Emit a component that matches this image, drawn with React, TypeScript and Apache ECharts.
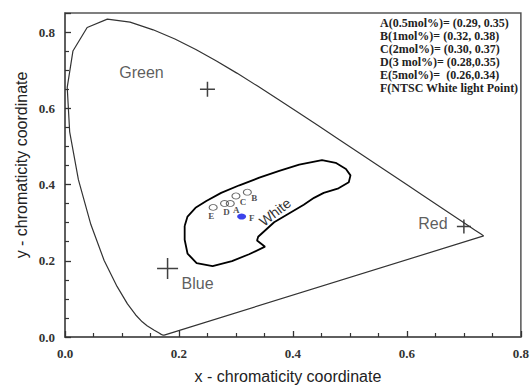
import React, { useEffect, useRef } from "react";
import * as echarts from "echarts";

// CIE spectral locus (x, y)
const locus: [number, number][] = [
  [0.1741, 0.005], [0.1733, 0.0048], [0.1714, 0.0051], [0.1689, 0.0069], [0.1644, 0.0109],
  [0.1566, 0.0177], [0.144, 0.0297], [0.1355, 0.0399], [0.1241, 0.0578], [0.1096, 0.0868],
  [0.0913, 0.1327], [0.0687, 0.2007], [0.0454, 0.295], [0.0235, 0.4127], [0.0082, 0.5384],
  [0.0039, 0.6548], [0.0139, 0.7502], [0.0389, 0.812], [0.0743, 0.8338], [0.1142, 0.8262],
  [0.1547, 0.8059], [0.1929, 0.7816], [0.2296, 0.7543], [0.2658, 0.7243], [0.3016, 0.6923],
  [0.3373, 0.6589], [0.3731, 0.6245], [0.4087, 0.5896], [0.4441, 0.5547], [0.4788, 0.5202],
  [0.5125, 0.4866], [0.5448, 0.4544], [0.5752, 0.4242], [0.6029, 0.3965], [0.627, 0.3725],
  [0.6658, 0.334], [0.6915, 0.3083], [0.7079, 0.292], [0.719, 0.2809], [0.73, 0.27],
  [0.7347, 0.2653], [0.1741, 0.005],
];

// White region outline
const whiteRegion: [number, number][] = [
  [0.21, 0.291], [0.215, 0.316], [0.229, 0.339], [0.248, 0.357], [0.274, 0.378],
  [0.306, 0.398], [0.341, 0.418], [0.376, 0.436], [0.411, 0.452], [0.451, 0.464],
  [0.475, 0.457], [0.493, 0.441], [0.501, 0.424], [0.498, 0.406], [0.48, 0.39],
  [0.454, 0.378], [0.437, 0.365], [0.419, 0.347], [0.393, 0.324], [0.367, 0.301],
  [0.339, 0.263], [0.337, 0.253], [0.351, 0.237], [0.323, 0.217], [0.293, 0.199],
  [0.259, 0.186], [0.231, 0.194], [0.215, 0.219], [0.21, 0.255], [0.21, 0.291],
];

const sampleNames = ["A", "B", "C", "D", "E"];
const sampleX = [0.29, 0.32, 0.3, 0.28, 0.26];
const sampleY = [0.35, 0.38, 0.37, 0.35, 0.34];
const sampleLabelOffsets: [number, number][] = [[6, 6], [7, 6], [7, 6], [2, 8], [-2, 9]];

const whitePointName = "F";
const whitePoint: [number, number] = [0.31, 0.316];

const primaryNames = ["Green", "Red", "Blue"];
const primaryX = [0.25, 0.7, 0.18];
const primaryY = [0.65, 0.29, 0.18];
const primarySizes = [15, 14, 21];
const primaryLabelOffsets: [number, number][] = [[-66, -17], [-31, -3], [30, 15]];

const legendLines = [
  "A(0.5mol%)= (0.29, 0.35)",
  "B(1mol%)= (0.32, 0.38)",
  "C(2mol%)= (0.30, 0.37)",
  "D(3 mol%)= (0.28,0.35)",
  "E(5mol%)=  (0.26,0.34)",
  "F(NTSC White light Point)",
];

const xTickValues = [0, 0.2, 0.4, 0.6, 0.8];
const yTickValues = [0, 0.2, 0.4, 0.6, 0.8];

const xTitle = "x - chromaticity coordinate";
const yTitle = "y - chromaticity coordinate";

const serif = "'Liberation Serif', 'Times New Roman', serif";
const sans = "'Liberation Sans', Arial, sans-serif";

export default function App() {
  const ref = useRef<HTMLDivElement>(null);
  useEffect(() => {
    if (!ref.current) return;
    const chart = echarts.init(ref.current, null, { renderer: "svg" });
    const axisCommon = {
      type: "value" as const,
      splitLine: { show: false },
      axisLine: { show: true, lineStyle: { color: "#555", width: 1.5 } },
      axisTick: { show: true, inside: true, length: 6, lineStyle: { color: "#333", width: 1.3 } },
      minorTick: { show: true, splitNumber: 4, length: 4, lineStyle: { color: "#333", width: 1.2 } },
      axisLabel: {
        fontFamily: serif,
        fontWeight: "bold" as const,
        fontSize: 13,
        color: "#333",
        margin: 10,
      },
    };
    chart.setOption({
      animation: false,
      backgroundColor: "#fff",
      grid: {
        left: 65, right: 9, top: 13, bottom: 43,
        show: true, borderColor: "#555", borderWidth: 1.5,
      },
      xAxis: {
        ...axisCommon,
        min: 0, max: 0.8, interval: 0.2,
        axisLabel: {
          ...axisCommon.axisLabel,
          formatter: (v: number) =>
            xTickValues.some((t) => Math.abs(t - v) < 1e-6) ? v.toFixed(1) : "",
        },
        name: xTitle,
        nameLocation: "middle",
        nameGap: 31,
        nameTextStyle: { fontFamily: sans, fontSize: 16, color: "#222", padding: [0, 10, 0, 0] },
      },
      yAxis: {
        ...axisCommon,
        min: 0, max: 0.85, interval: 0.2,
        axisLabel: {
          ...axisCommon.axisLabel,
          showMaxLabel: false,
          formatter: (v: number) =>
            yTickValues.some((t) => Math.abs(t - v) < 1e-6) ? v.toFixed(1) : "",
        },
      },
      series: [
        {
          type: "line",
          data: locus,
          showSymbol: false,
          symbol: "none",
          lineStyle: { color: "#333", width: 1.2 },
          silent: true,
        },
        {
          type: "line",
          data: whiteRegion,
          showSymbol: false,
          symbol: "none",
          lineStyle: { color: "#000", width: 1.8 },
          silent: true,
        },
        {
          type: "scatter",
          data: sampleNames.map((n, i) => ({
            name: n,
            value: [sampleX[i], sampleY[i]],
            label: { offset: sampleLabelOffsets[i] },
          })),
          symbol: "circle",
          symbolSize: [8, 6],
          itemStyle: { color: "rgba(0,0,0,0)", borderColor: "#444", borderWidth: 1 },
          label: {
            show: true,
            position: "inside",
            formatter: "{b}",
            fontFamily: serif,
            fontWeight: "bold",
            fontSize: 9,
            color: "#222",
          },
        },
        {
          type: "scatter",
          data: [{ name: whitePointName, value: whitePoint }],
          symbol: "circle",
          symbolSize: [9, 6],
          itemStyle: { color: "#0a14e6" },
          label: {
            show: true,
            position: "inside",
            offset: [10, 1],
            formatter: "{b}",
            fontFamily: serif,
            fontWeight: "bold",
            fontSize: 9,
            color: "#222",
          },
        },
        {
          type: "scatter",
          data: primaryNames.map((n, i) => ({
            name: n,
            value: [primaryX[i], primaryY[i]],
            symbolSize: primarySizes[i],
            label: { offset: primaryLabelOffsets[i] },
          })),
          symbol: "path://M5,0 L5,10 M0,5 L10,5",
          itemStyle: { color: "rgba(0,0,0,0)", borderColor: "#111", borderWidth: 1.5 },
          label: {
            show: true,
            position: "inside",
            formatter: "{b}",
            fontFamily: sans,
            fontSize: 16,
            color: "#333",
          },
        },
      ],
      graphic: [
        {
          type: "text",
          x: 21,
          y: 165,
          rotation: Math.PI / 2,
          style: {
            text: yTitle,
            font: `16px ${sans}`,
            fill: "#222",
            align: "center",
            verticalAlign: "middle",
          },
        },
        {
          type: "text",
          x: 275,
          y: 212,
          rotation: 0.66,
          style: {
            text: "White",
            font: `14px ${sans}`,
            fill: "#333",
            align: "center",
            verticalAlign: "middle",
          },
        },
        {
          type: "text",
          x: 380,
          y: 16,
          style: {
            text: legendLines.join("\n"),
            font: `bold 12px ${serif}`,
            lineHeight: 13,
            fill: "#222",
            align: "left",
            verticalAlign: "top",
          },
        },
      ],
    });
    return () => chart.dispose();
  }, []);
  return (
    <div
      ref={ref}
      style={{ position: "fixed", left: 0, top: 0, width: 532, height: 389, background: "#fff" }}
    />
  );
}
